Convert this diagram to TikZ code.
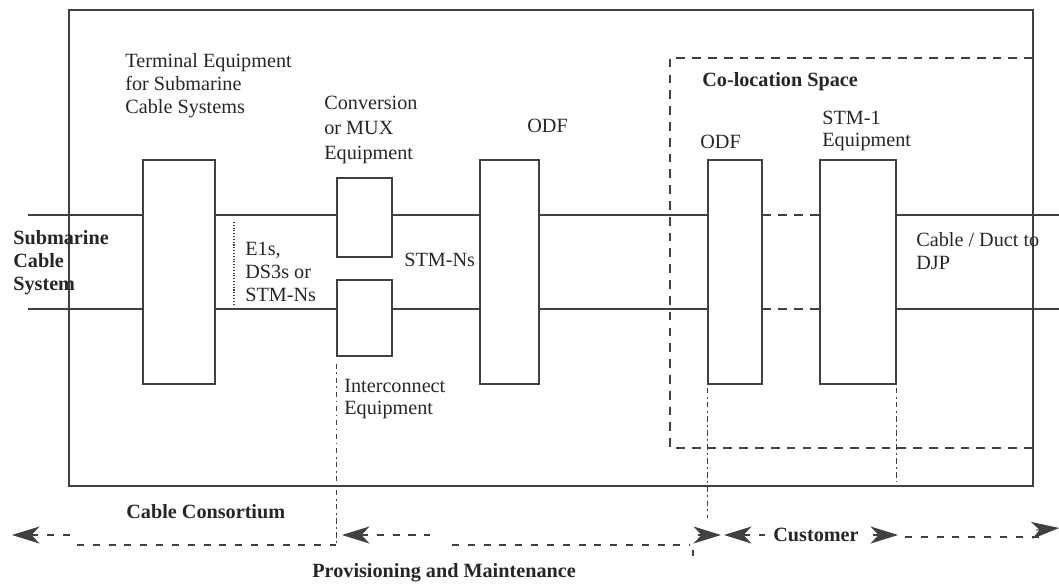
\documentclass[tikz,border=0pt]{standalone}
\usepackage{fontspec}
\setmainfont{Liberation Serif}
\usetikzlibrary{arrows.meta}
\definecolor{ink}{rgb}{0.25,0.25,0.25}

\begin{document}
\begin{tikzpicture}[x=0.02cm,y=-0.02cm,
  box/.style n args={2}{draw=ink,line width=0.7pt,inner sep=0pt,minimum width=#1*0.02cm,minimum height=#2*0.02cm},
  wire/.style={draw=ink,line width=0.6pt},
  dwire/.style={wire,dash pattern=on 5pt off 4pt},
  guide/.style={wire,line width=0.8pt,dash pattern=on 3pt off 2pt on 1pt off 2pt},
  span/.style={wire,dash pattern=on 4pt off 5pt},
  headL/.style={{Stealth[length=5.5mm,width=3.4mm,inset=1.6mm]}-},
  headR/.style={-{Stealth[length=5.5mm,width=3.4mm,inset=1.6mm]}},
  lbl/.style={anchor=west,inner sep=0pt,align=left,text=black!85,font=\fontsize{11.5}{13}\selectfont},
  blbl/.style={lbl,font=\fontsize{11.5}{13}\selectfont\bfseries}]
\useasboundingbox (0,0) rectangle (1059,585);

\coordinate (up) at (0,215);
\coordinate (lo) at (0,309);
\coordinate (inL) at (28,0);
\coordinate (outR) at (1059,0);

% building and co-location space
\draw[wire,line width=0.9pt] (69,10) rectangle (1033,486);
\draw[dwire,line width=0.9pt] (1033,58) -- (670,58) -- (670,448) -- (1033,448);

\node[box={72}{224}] (te) at (179,272) {};
\node[box={55}{79}] (mux1) at (364.5,217.5) {};
\node[box={55}{76}] (mux2) at (364.5,318) {};
\node[box={59}{224}] (odfA) at (509.5,272) {};
\node[box={54}{224}] (odfB) at (735,272) {};
\node[box={76}{224}] (stm) at (858,272) {};

\foreach \lv/\mx in {up/mux1,lo/mux2}{
  \draw[wire] (inL |- \lv) -- (te.west |- \lv);
  \draw[wire] (te.east |- \lv) -- (\mx.west |- \lv);
  \draw[wire] (\mx.east |- \lv) -- (odfA.west |- \lv);
  \draw[wire] (odfA.east |- \lv) -- (odfB.west |- \lv);
  \draw[dwire] (odfB.east |- \lv) -- (stm.west |- \lv);
  \draw[wire] (stm.east |- \lv) -- (outR |- \lv);
}

% demarcation
\coordinate (pm) at (0,545);
\draw[wire,densely dotted,line width=0.8pt] (234,222) -- (234,305);
\draw[guide] ([yshift=-4pt]mux2.south west) -- (mux2.south west |- pm);
\draw[guide] ([yshift=-2pt]odfB.south west) -- ++(0,130);
\draw[guide] ([yshift=-2pt]stm.south east) -- ++(0,94);

\node[lbl] (tetxt) at (125,86) {Terminal Equipment\\for Submarine\\Cable Systems};
\node[lbl,font=\fontsize{11.5}{14}\selectfont] (convtxt) at (324,130) {Conversion\\or MUX\\Equipment};
\node[lbl] (odfAtxt) at (527,126) {ODF};
\node[blbl] (colotxt) at (702,82) {Co-location Space};
\node[lbl] (odfBtxt) at (700,142) {ODF};
\node[lbl] (stmtxt) at (822,131) {STM-1\\Equipment};
\node[blbl] (subtxt) at (13,263) {Submarine\\Cable\\System};
\node[lbl] (e1txt) at (245,272) {E1s,\\DS3s or\\STM-Ns};
\node[lbl] (nstxt) at (404,260) {STM-Ns};
\node[lbl] (ictxt) at (344,399) {Interconnect\\Equipment};
\node[lbl] (ductxt) at (916,251) {Cable / Duct to\\DJP};

% who looks after what
\coordinate (ccL) at (12,535);
\draw[span,headL] (ccL) -- (72,535);
\draw[span] (77,545) -- (mux2.south west |- pm);
\draw[span,headL] (342,535) -- (430,535);
\draw[span] (452,545) -- (690,545);
\draw[wire] (693,550) -- (693,556);
\draw[wire,headR] (698,535) -- (721,535);
\draw[span,headL] (724,535) -- (765,535);
\node[blbl,anchor=center] (cust) at (816,535) {Customer};
\draw[wire,headR] (873,535) -- (898,535);
\draw[span] (905,537) -- (1040,537);
\draw[wire,headR] (1036,530) -- (1059,528);

\node[blbl] (cctxt) at (126,512) {Cable Consortium};
\node[blbl] (pmtxt) at (312,573) {Provisioning and Maintenance};

\end{tikzpicture}
\end{document}
